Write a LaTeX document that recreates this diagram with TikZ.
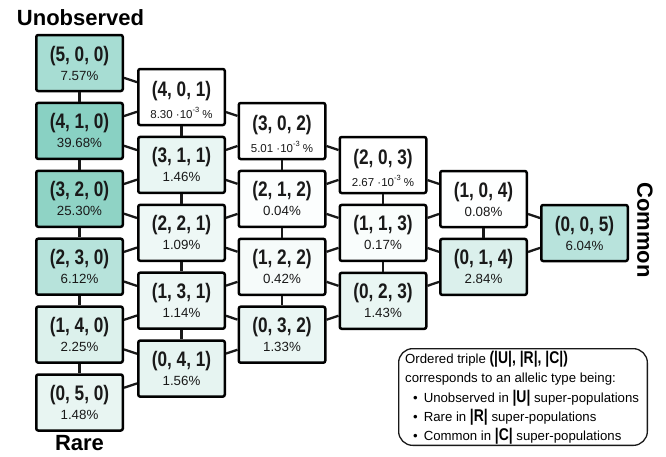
\documentclass[tikz,border=0pt]{standalone}
\usepackage{fontspec}
\setmainfont{Liberation Sans}
\newfontfamily\narrowfont[FakeStretch=0.82]{Liberation Sans}
\definecolor{f500}{HTML}{A7DDD3}
\definecolor{f410}{HTML}{89D1C3}
\definecolor{f320}{HTML}{8FD3C5}
\definecolor{f230}{HTML}{B7E3DB}
\definecolor{f140}{HTML}{DCF1EC}
\definecolor{f050}{HTML}{E8F5F2}
\definecolor{f401}{HTML}{FFFFFF}
\definecolor{f311}{HTML}{E9F6F3}
\definecolor{f221}{HTML}{EEF8F6}
\definecolor{f131}{HTML}{EDF7F5}
\definecolor{f041}{HTML}{E6F4F1}
\definecolor{f302}{HTML}{FFFFFF}
\definecolor{f212}{HTML}{FCFEFE}
\definecolor{f122}{HTML}{F6FBFA}
\definecolor{f032}{HTML}{EAF6F4}
\definecolor{f203}{HTML}{FFFFFF}
\definecolor{f113}{HTML}{F9FDFC}
\definecolor{f023}{HTML}{E9F6F3}
\definecolor{f104}{HTML}{FEFFFF}
\definecolor{f014}{HTML}{DBF0EC}
\definecolor{f005}{HTML}{B8E3DC}
\newcommand\lgb{\narrowfont\bfseries\fontsize{17}{17}\selectfont}
\newcommand\scin[1]{#1 ·10\raisebox{0.45em}{\fontsize{7.5}{7.5}\selectfont -3} \%}
% name, x, y, fill, tuple, percentage
\newcommand\mkbox[6]{%
  \node[bx,fill=#4] (#1) at (#2,#3) {};
  \node[tup,anchor=base] (#1t) at ([yshift=2pt]#1.center) {#5};
  \node[pct,anchor=base] (#1p) at ([yshift=-17pt]#1.center) {#6};}
\newcommand\mkboxs[6]{%
  \node[bx,fill=#4] (#1) at (#2,#3) {};
  \node[tup,anchor=base] (#1t) at ([yshift=1pt]#1.center) {#5};
  \node[sci,anchor=base] (#1p) at ([yshift=-21pt]#1.center) {\scin{#6}};}
\begin{document}
\begin{tikzpicture}[x=1pt,y=-1pt,
  bx/.style={draw=black, line width=2.5pt, rounded corners=2pt,
    minimum width=86.5pt, minimum height=56pt, inner sep=0pt},
  tup/.style={font=\narrowfont\bfseries\fontsize{21}{21}\selectfont, inner sep=0pt, text=black!90},
  pct/.style={font=\fontsize{13.3}{13.3}\selectfont, inner sep=0pt, text=black!90},
  sci/.style={font=\fontsize{11.5}{11.5}\selectfont, inner sep=0pt, text=black!90},
  cn/.style={line width=2.3pt, draw=black!90},
  lbl/.style={font=\bfseries\fontsize{22}{22}\selectfont, inner sep=0pt},
  lg/.style={font=\fontsize{13.2}{13.2}\selectfont, inner sep=0pt, anchor=base west}]
\useasboundingbox (0,0) rectangle (666,456);
% column 0
\mkbox{b500}{79.5}{63}{f500}{(5, 0, 0)}{7.57\%}
\mkbox{b410}{79.5}{130.9}{f410}{(4, 1, 0)}{39.68\%}
\mkbox{b320}{79.5}{198.8}{f320}{(3, 2, 0)}{25.30\%}
\mkbox{b230}{79.5}{266.7}{f230}{(2, 3, 0)}{6.12\%}
\mkbox{b140}{79.5}{334.6}{f140}{(1, 4, 0)}{2.25\%}
\mkbox{b050}{79.5}{402.5}{f050}{(0, 5, 0)}{1.48\%}
% column 1
\mkboxs{b401}{181.5}{97}{f401}{(4, 0, 1)}{8.30}
\mkbox{b311}{181.5}{164.9}{f311}{(3, 1, 1)}{1.46\%}
\mkbox{b221}{181.5}{232.8}{f221}{(2, 2, 1)}{1.09\%}
\mkbox{b131}{181.5}{300.7}{f131}{(1, 3, 1)}{1.14\%}
\mkbox{b041}{181.5}{368.6}{f041}{(0, 4, 1)}{1.56\%}
% column 2
\mkboxs{b302}{282}{131}{f302}{(3, 0, 2)}{5.01}
\mkbox{b212}{282}{198.9}{f212}{(2, 1, 2)}{0.04\%}
\mkbox{b122}{282}{266.8}{f122}{(1, 2, 2)}{0.42\%}
\mkbox{b032}{282}{334.7}{f032}{(0, 3, 2)}{1.33\%}
% column 3
\mkboxs{b203}{383}{165}{f203}{(2, 0, 3)}{2.67}
\mkbox{b113}{383}{232.9}{f113}{(1, 1, 3)}{0.17\%}
\mkbox{b023}{383}{300.8}{f023}{(0, 2, 3)}{1.43\%}
% column 4
\mkbox{b104}{483.5}{199}{f104}{(1, 0, 4)}{0.08\%}
\mkbox{b014}{483.5}{266.9}{f014}{(0, 1, 4)}{2.84\%}
% column 5
\mkbox{b005}{584.5}{233}{f005}{(0, 0, 5)}{6.04\%}
% connectors
\foreach \ic in {0,...,5}{
  \foreach \ir in {0,...,5}{
    \pgfmathtruncatemacro\ia{5-\ir-\ic}
    \pgfmathtruncatemacro\iam{\ia-1}
    \pgfmathtruncatemacro\irp{\ir+1}
    \pgfmathtruncatemacro\irm{\ir-1}
    \pgfmathtruncatemacro\icp{\ic+1}
    \ifnum\ia>0
      \draw[cn] (b\ia\ir\ic) -- (b\iam\irp\ic);
      \draw[cn] (b\ia\ir\ic) -- (b\iam\ir\icp);
    \fi
    \ifnum\ia>-1 \ifnum\ir>0
      \draw[cn] (b\ia\ir\ic) -- (b\ia\irm\icp);
    \fi\fi
  }}
% axis labels
\node[lbl,anchor=base] (unobs) at (80.5,25) {Unobserved};
\node[lbl,anchor=base] (rare) at (79.5,450.5) {Rare};
\node[lbl,rotate=-90] (common) at (645,230) {Common};
% legend
\node[draw=black!90, line width=1.3pt, rounded corners=14pt, minimum width=248.7pt,
  minimum height=96.7pt, inner sep=0pt] (legend) at (523,397) {};
\node[lg] (lg1) at (405,363) {Ordered triple {\lgb(|U|, |R|, |C|)}};
\node[lg] (lg2) at (405,382) {corresponds to an allelic type being:};
\node[lg] (lg3) at (413,402) {•\hspace{0.45em}Unobserved in {\lgb|U|} super-populations};
\node[lg] (lg4) at (413,421) {•\hspace{0.45em}Rare in {\lgb|R|} super-populations};
\node[lg] (lg5) at (413,440) {•\hspace{0.45em}Common in {\lgb|C|} super-populations};
\end{tikzpicture}
\end{document}
